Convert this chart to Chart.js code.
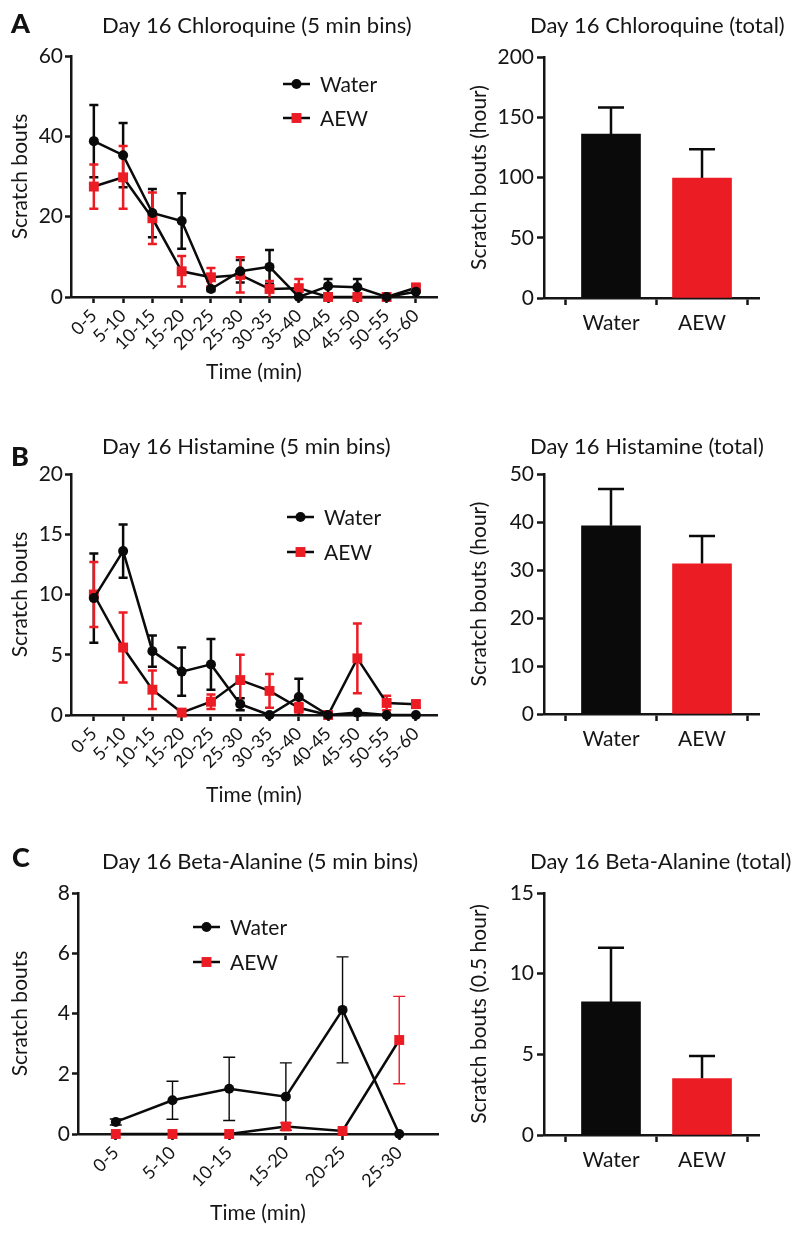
<!DOCTYPE html>
<html>
<head>
<meta charset="utf-8">
<script src="https://cdn.jsdelivr.net/npm/chart.js@4.4.1/dist/chart.umd.min.js"></script>
<style>
  body { margin: 0; background: #fff; }
  #page { position: relative; width: 799px; height: 1236px; overflow: hidden; }
  .box { position: absolute; }
  .letter { position: absolute; font: 900 27px Lato, sans-serif; line-height: 27px; color: #111; }
</style>
</head>
<body>
<div id="page">
  <div class="box" style="left:0;top:0"><canvas id="line_a" width="445" height="390"></canvas></div>
  <div class="box" style="left:445px;top:0"><canvas id="bar_a" width="354" height="390"></canvas></div>
  <div class="box" style="left:0;top:390px"><canvas id="line_b" width="445" height="420"></canvas></div>
  <div class="box" style="left:445px;top:390px"><canvas id="bar_b" width="354" height="420"></canvas></div>
  <div class="box" style="left:0;top:810px"><canvas id="line_c" width="445" height="426"></canvas></div>
  <div class="box" style="left:445px;top:810px"><canvas id="bar_c" width="354" height="426"></canvas></div>
  <div class="letter" style="left:11px;top:9px">A</div>
  <div class="letter" style="left:11px;top:442px">B</div>
  <div class="letter" style="left:12px;top:843px">C</div>
</div>
<script>
// time bins
const bins_60 = ['0-5','5-10','10-15','15-20','20-25','25-30','30-35','35-40','40-45','45-50','50-55','55-60'];
const bins_30 = ['0-5','5-10','10-15','15-20','20-25','25-30'];
const groups = ['Water', 'AEW'];

// chloroquine, 5 min bins
const chloro_water     = [38.8, 35.3, 20.9, 18.9, 2.0, 6.4, 7.5, 0, 2.7, 2.4, 0, 1.3];
const chloro_water_sem = [9.0, 8.0, 6.0, 6.9, 0.5, 2.8, 4.2, 0.3, 1.8, 2.1, 0, 1.3];
const chloro_aew       = [27.5, 29.8, 19.6, 6.4, 4.9, 5.5, 2.0, 2.2, 0, 0, 0, 2.3];
const chloro_aew_sem   = [5.5, 7.8, 6.4, 3.8, 2.3, 4.4, 2.0, 2.3, 0, 0, 0, 1.0];
const chloro_bins_ticks = [0, 20, 40, 60];

// histamine, 5 min bins
const hist_water     = [9.7, 13.6, 5.3, 3.6, 4.2, 0.9, 0, 1.5, 0, 0.2, 0, 0];
const hist_water_sem = [3.7, 2.2, 1.3, 2.0, 2.1, 0.5, 0, 1.5, 0, 0.1, 0, 0];
const hist_aew       = [10.0, 5.6, 2.1, 0.2, 1.1, 2.9, 2.0, 0.6, 0, 4.7, 1.0, 0.9];
const hist_aew_sem   = [2.7, 2.9, 1.6, 0, 0.6, 2.1, 1.4, 0.4, 0, 2.9, 0.6, 0.3];
const hist_bins_ticks = [0, 5, 10, 15, 20];

// beta-alanine, 5 min bins
const beta_water     = [0.4, 1.12, 1.5, 1.24, 4.12, 0];
const beta_water_sem = [0.1, 0.63, 1.05, 1.12, 1.76, 0];
const beta_aew       = [0, 0, 0, 0.25, 0.1, 3.12];
const beta_aew_sem   = [0, 0, 0, 0.12, 0, 1.45];
const beta_bins_ticks = [0, 2, 4, 6, 8];

// totals
const chloro_total = [136, 99.5];
const chloro_total_sem = [22, 24];
const chloro_total_ticks = [0, 50, 100, 150, 200];
const hist_total = [39.2, 31.3];
const hist_total_sem = [7.7, 5.8];
const hist_total_ticks = [0, 10, 20, 30, 40, 50];
const beta_total = [8.25, 3.5];
const beta_total_sem = [3.35, 1.4];
const beta_total_ticks = [0, 5, 10, 15];

const INK = '#151515';
const BLACK = '#0a0a0a';
const RED = '#ec1c24';
Chart.defaults.font.family = 'Lato, sans-serif';
Chart.defaults.color = INK;

// mean +/- sem whiskers, drawn under the markers
const errorBars = {
  id: 'errorBars',
  beforeDatasetsDraw(chart) {
    const ctx = chart.ctx;
    const y = chart.scales.y;
    chart.data.datasets.forEach((ds, i) => {
      if (!ds.sem) return;
      const meta = chart.getDatasetMeta(i);
      ctx.save();
      ctx.strokeStyle = ds.errColor;
      ctx.lineWidth = ds.errWidth;
      meta.data.forEach((el, j) => {
        const m = ds.mean[j], e = ds.sem[j];
        if (!e) return;
        const top = y.getPixelForValue(m + e);
        const bot = ds.upOnly ? y.getPixelForValue(m) : y.getPixelForValue(Math.max(m - e, y.min));
        ctx.beginPath();
        ctx.moveTo(el.x, top); ctx.lineTo(el.x, bot);
        ctx.moveTo(el.x - ds.errCap, top); ctx.lineTo(el.x + ds.errCap, top);
        if (!ds.upOnly && m - e > y.min) {
          ctx.moveTo(el.x - ds.errCap, bot); ctx.lineTo(el.x + ds.errCap, bot);
        }
        ctx.stroke();
      });
      ctx.restore();
    });
  }
};

// legend inside the plot: line - marker - line, then label
const inlineLegend = {
  id: 'inlineLegend',
  afterDatasetsDraw(chart, args, opts) {
    if (!opts.show) return;
    const {ctx, chartArea} = chart;
    chart.data.datasets.forEach((ds, i) => {
      const x = chartArea.left + opts.x;
      const y = chartArea.top + opts.y + i * opts.gap;
      ctx.save();
      ctx.strokeStyle = ds.borderColor;
      ctx.lineWidth = ds.borderWidth;
      ctx.beginPath(); ctx.moveTo(x, y); ctx.lineTo(x + opts.len, y); ctx.stroke();
      ctx.fillStyle = ds.pointBackgroundColor;
      const cx = x + opts.len / 2;
      if (ds.pointStyle === 'rect') {
        const s = ds.pointRadius * Math.SQRT1_2;
        ctx.fillRect(cx - s, y - s, 2 * s, 2 * s);
      } else {
        ctx.beginPath(); ctx.arc(cx, y, ds.pointRadius, 0, Math.PI * 2); ctx.fill();
      }
      ctx.fillStyle = INK;
      ctx.font = opts.font;
      ctx.textBaseline = 'middle';
      ctx.fillText(ds.label, x + opts.len + opts.textGap, y + 1);
      ctx.restore();
    });
  }
};

// panel heading, left aligned like the original figure
const panelTitle = {
  id: 'panelTitle',
  afterDraw(chart, args, opts) {
    const ctx = chart.ctx;
    ctx.save();
    ctx.fillStyle = INK;
    ctx.font = '22px Lato, sans-serif';
    ctx.textAlign = 'left';
    ctx.textBaseline = 'middle';
    ctx.fillText(opts.text, opts.x, opts.y);
    ctx.restore();
  }
};

class ScratchCharts {
  axis_style(size) {
    return {
      grid: { display: true, drawOnChartArea: false, drawTicks: true, tickLength: size, tickWidth: 2.5, tickColor: INK },
      border: { display: true, color: INK, width: 2.5 }
    };
  }

  line_chart(id, o) {
    const ctx = document.getElementById(id).getContext('2d');
    const pts = (arr) => arr.map((v, i) => ({x: i, y: v}));
    return new Chart(ctx, {
      type: 'line',
      plugins: [errorBars, inlineLegend, panelTitle],
      data: {
        datasets: [
          {
            label: 'Water', data: pts(o.water), mean: o.water, sem: o.water_sem,
            borderColor: BLACK, borderWidth: 2.5, tension: 0,
            pointStyle: 'circle', pointRadius: 5, pointBorderWidth: 0,
            pointBackgroundColor: BLACK, pointBorderColor: BLACK,
            errColor: BLACK, errWidth: o.err_width, errCap: o.cap, clip: false
          },
          {
            label: 'AEW', data: pts(o.aew), mean: o.aew, sem: o.aew_sem,
            borderColor: BLACK, borderWidth: 2.5, tension: 0,
            pointStyle: 'rect', pointRadius: 7, pointBorderWidth: 0,
            pointBackgroundColor: RED, pointBorderColor: RED,
            errColor: RED, errWidth: o.err_width, errCap: o.cap, clip: false
          }
        ]
      },
      options: {
        responsive: false,
        animation: false,
        events: [],
        layout: { padding: { left: 0, right: o.pad_right, top: o.top, bottom: 0 } },
        plugins: {
          legend: { display: false },
          tooltip: { enabled: false },
          title: { display: false },
          panelTitle: { text: o.title, x: 102, y: o.title_y },
          inlineLegend: { show: true, x: o.legend[0], y: o.legend[1], gap: o.legend[2], len: 27, textGap: 10, font: '21px Lato, sans-serif' }
        },
        scales: {
          x: {
            type: 'linear', min: o.x_range[0], max: o.x_range[1],
            afterBuildTicks: (s) => { s.ticks = o.labels.map((_, i) => ({value: i})); },
            afterFit: (s) => { s.height = o.x_height; },
            ticks: {
              autoSkip: false, minRotation: 45, maxRotation: 45, padding: 2, color: INK,
              font: { size: 18 }, callback: (v) => o.labels[v]
            },
            ...this.axis_style(6),
            title: { display: true, text: 'Time (min)', color: INK, font: { size: 21 }, padding: { top: 0, bottom: o.x_title_pad } }
          },
          y: {
            min: o.y_ticks[0], max: o.y_ticks[o.y_ticks.length - 1],
            afterFit: (s) => { s.width = o.y_width; },
            ticks: { stepSize: o.y_ticks[1] - o.y_ticks[0], padding: 2, color: INK, font: { size: 21 } },
            ...this.axis_style(6),
            title: { display: true, text: 'Scratch bouts', color: INK, font: { size: 21 }, padding: { top: 8, bottom: 0 } }
          }
        }
      }
    });
  }

  bar_chart(id, o) {
    const ctx = document.getElementById(id).getContext('2d');
    return new Chart(ctx, {
      type: 'bar',
      plugins: [errorBars, panelTitle],
      data: {
        datasets: [{
          label: o.title,
          data: o.values.map((v, i) => ({x: i, y: v})),
          mean: o.values, sem: o.sem, upOnly: true,
          backgroundColor: [BLACK, RED], borderWidth: 0, barThickness: 59,
          errColor: BLACK, errWidth: 2.5, errCap: 13
        }]
      },
      options: {
        responsive: false,
        animation: false,
        events: [],
        layout: { padding: { left: 0, right: 40, top: o.top, bottom: 0 } },
        plugins: {
          legend: { display: false },
          tooltip: { enabled: false },
          title: { display: false },
          panelTitle: { text: o.title, x: 85, y: o.title_y }
        },
        scales: {
          x: {
            type: 'linear', min: -0.736, max: 1.626, offset: false,
            afterBuildTicks: (s) => { s.ticks = groups.map((_, i) => ({value: i})); },
            afterFit: (s) => { s.height = o.x_height; },
            ticks: { autoSkip: false, maxRotation: 0, padding: 6, color: INK, font: { size: 21 }, callback: (v) => groups[v] },
            ...this.axis_style(7)
          },
          y: {
            min: o.y_ticks[0], max: o.y_ticks[o.y_ticks.length - 1],
            afterFit: (s) => { s.width = 99; },
            ticks: { stepSize: o.y_ticks[1] - o.y_ticks[0], padding: 3, color: INK, font: { size: 21 } },
            ...this.axis_style(7),
            title: { display: true, text: o.y_title, color: INK, font: { size: 21 }, padding: { top: 22, bottom: 0 } }
          }
        }
      }
    });
  }
}

const charts = new ScratchCharts();

charts.line_chart('line_a', {
  title: 'Day 16 Chloroquine (5 min bins)', labels: bins_60,
  water: chloro_water, water_sem: chloro_water_sem, aew: chloro_aew, aew_sem: chloro_aew_sem,
  y_ticks: chloro_bins_ticks, x_range: [-0.78, 11.72],
  top: 56, title_y: 26, x_height: 93, x_title_pad: 5, y_width: 71, pad_right: 8,
  legend: [212, 28, 34], err_width: 2.5, cap: 4.5
});
charts.line_chart('line_b', {
  title: 'Day 16 Histamine (5 min bins)', labels: bins_60,
  water: hist_water, water_sem: hist_water_sem, aew: hist_aew, aew_sem: hist_aew_sem,
  y_ticks: hist_bins_ticks, x_range: [-0.78, 11.72],
  top: 84, title_y: 57, x_height: 95, x_title_pad: 2, y_width: 71, pad_right: 8,
  legend: [216, 43, 35], err_width: 2.5, cap: 4.5
});
charts.line_chart('line_c', {
  title: 'Day 16 Beta-Alanine (5 min bins)', labels: bins_30,
  water: beta_water, water_sem: beta_water_sem, aew: beta_aew, aew_sem: beta_aew_sem,
  y_ticks: beta_bins_ticks, x_range: [-0.667, 5.684],
  top: 83, title_y: 52, x_height: 102, x_title_pad: 10, y_width: 78, pad_right: 5,
  legend: [115, 34, 35], err_width: 1.4, cap: 6
});

charts.bar_chart('bar_a', {
  title: 'Day 16 Chloroquine (total)', y_title: 'Scratch bouts (hour)',
  values: chloro_total, sem: chloro_total_sem, y_ticks: chloro_total_ticks,
  top: 57, title_y: 26, x_height: 92
});
charts.bar_chart('bar_b', {
  title: 'Day 16 Histamine (total)', y_title: 'Scratch bouts (hour)',
  values: hist_total, sem: hist_total_sem, y_ticks: hist_total_ticks,
  top: 84, title_y: 57, x_height: 96
});
charts.bar_chart('bar_c', {
  title: 'Day 16 Beta-Alanine (total)', y_title: 'Scratch bouts (0.5 hour)',
  values: beta_total, sem: beta_total_sem, y_ticks: beta_total_ticks,
  top: 83, title_y: 52, x_height: 101
});
</script>
</body>
</html>
